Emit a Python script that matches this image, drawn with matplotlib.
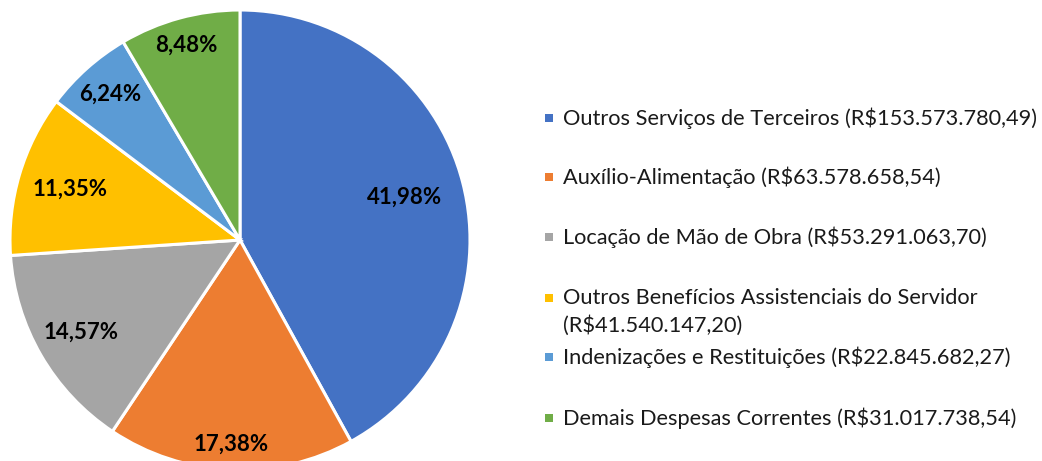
import numpy as np
import matplotlib.pyplot as plt
from matplotlib.patches import Rectangle

# Despesas correntes por categoria
categories = [
    "Outros Serviços de Terceiros (R$153.573.780,49)",
    "Auxílio-Alimentação (R$63.578.658,54)",
    "Locação de Mão de Obra (R$53.291.063,70)",
    "Outros Benefícios Assistenciais do Servidor\n(R$41.540.147,20)",
    "Indenizações e Restituições (R$22.845.682,27)",
    "Demais Despesas Correntes (R$31.017.738,54)",
]
shares = [41.98, 17.38, 14.57, 11.35, 6.24, 8.48]
pct_labels = ["41,98%", "17,38%", "14,57%", "11,35%", "6,24%", "8,48%"]

colors = ["#4472C4", "#ED7D31", "#A5A5A5", "#FFC000", "#5B9BD5", "#70AD47"]
label_r = [0.74, 0.89, 0.80, 0.77, 0.85, 0.88]

plt.rcParams["font.family"] = ["Lato", "DejaVu Sans"]

W, H = 1042, 461
fig = plt.figure(figsize=(W / 100, H / 100), dpi=100)

cx, cy, r = 240, 240, 230
ax = fig.add_axes([(cx - r) / W, (H - cy - r) / H, 2 * r / W, 2 * r / H])
wedges, _ = ax.pie(shares, colors=colors, startangle=90, counterclock=False,
                   radius=1, wedgeprops=dict(edgecolor="white", linewidth=2.2))
ax.set_xlim(-1, 1)
ax.set_ylim(-1, 1)
ax.set_aspect("equal")
ax.axis("off")

for w, lab, d in zip(wedges, pct_labels, label_r):
    ang = np.deg2rad((w.theta1 + w.theta2) / 2)
    ax.text(d * np.cos(ang), d * np.sin(ang), lab, ha="center", va="center",
            fontsize=16, fontweight="bold", color="black", clip_on=False)

# legend drawn by hand (one line = 28 px)
legend_y = [118, 177, 237, 298, 357, 418]
for c, txt, y in zip(colors, categories, legend_y):
    fig.patches.append(Rectangle(((549 - 4) / W, (H - y - 4) / H), 8 / W, 8 / H,
                                 transform=fig.transFigure, facecolor=c,
                                 edgecolor="none"))
    for i, line in enumerate(txt.split("\n")):
        fig.text(563 / W, (H - y - 28 * i) / H, line, ha="left", va="center",
                 fontsize=15.7, color="#1a1a1a")

fig.savefig("out.png", dpi=100)
